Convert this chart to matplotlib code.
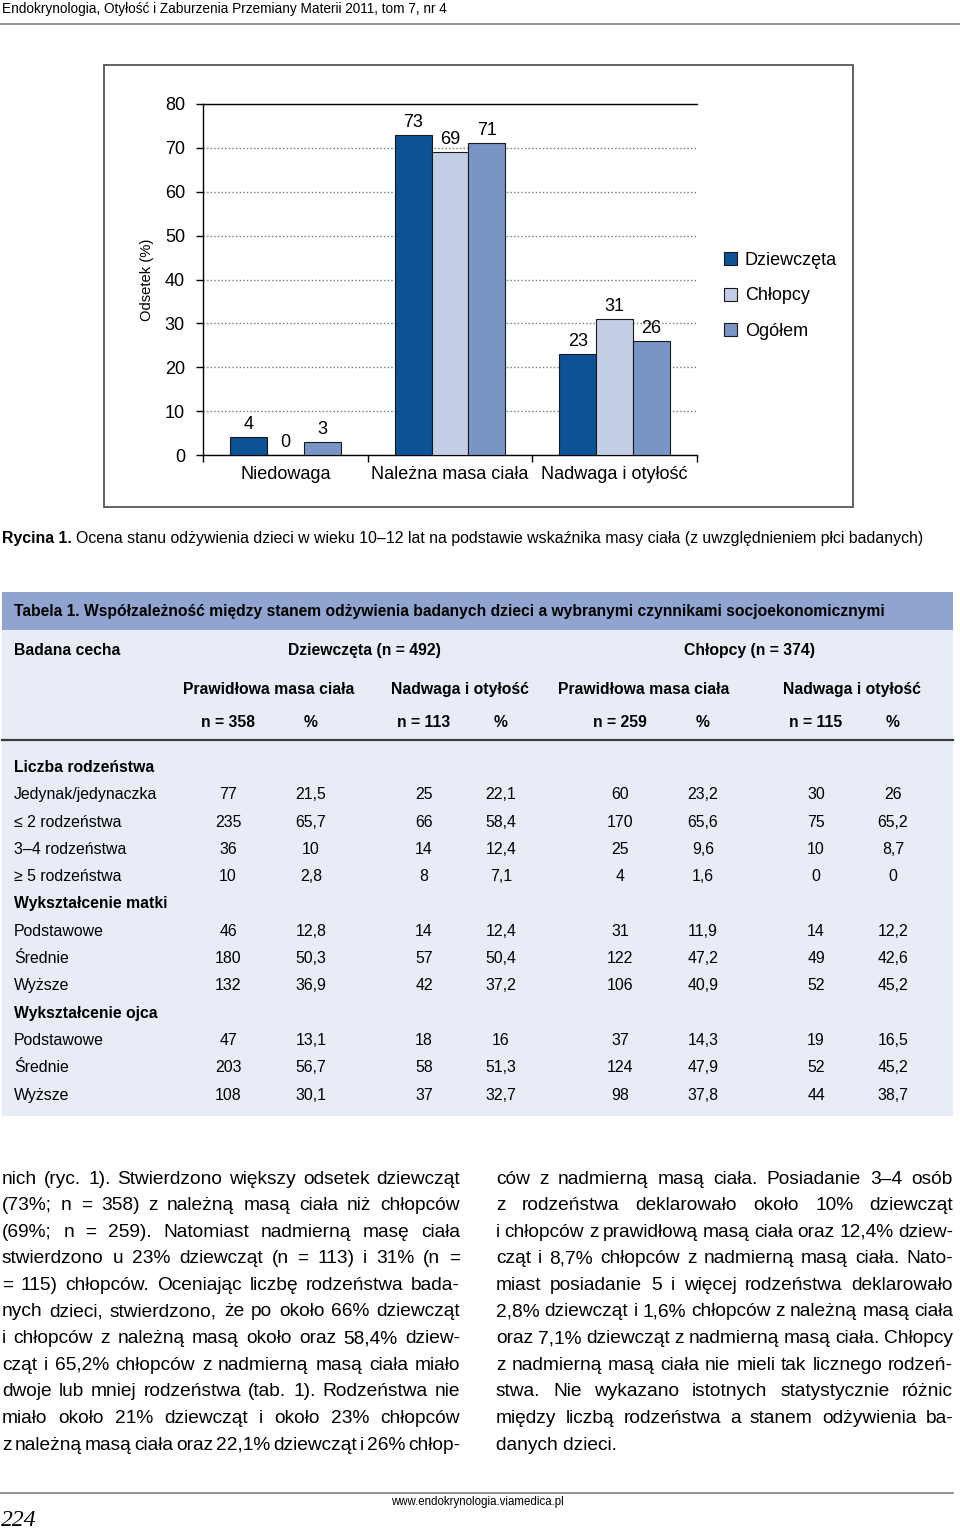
import numpy as np
import matplotlib.pyplot as plt
from matplotlib.patches import Rectangle
from matplotlib.lines import Line2D

# chart data (Rycina 1)
categories = ['Niedowaga', 'Należna masa ciała', 'Nadwaga i otyłość']
girls = [4, 73, 23]
boys = [0, 69, 31]
total = [3, 71, 26]
series_names = ['Dziewczęta', 'Chłopcy', 'Ogółem']
colors = ['#0b5297', '#c3cde6', '#7995c6']

# table data (Tabela 1)
n_labels = ['n = 358', '%', 'n = 113', '%', 'n = 259', '%', 'n = 115', '%']
sections = ['Liczba rodzeństwa', 'Wykształcenie matki', 'Wykształcenie ojca']
siblings = [
    ('Jedynak/jedynaczka', ['77', '21,5', '25', '22,1', '60', '23,2', '30', '26']),
    ('≤ 2 rodzeństwa', ['235', '65,7', '66', '58,4', '170', '65,6', '75', '65,2']),
    ('3–4 rodzeństwa', ['36', '10', '14', '12,4', '25', '9,6', '10', '8,7']),
    ('≥ 5 rodzeństwa', ['10', '2,8', '8', '7,1', '4', '1,6', '0', '0']),
]
mother = [
    ('Podstawowe', ['46', '12,8', '14', '12,4', '31', '11,9', '14', '12,2']),
    ('Średnie', ['180', '50,3', '57', '50,4', '122', '47,2', '49', '42,6']),
    ('Wyższe', ['132', '36,9', '42', '37,2', '106', '40,9', '52', '45,2']),
]
father = [
    ('Podstawowe', ['47', '13,1', '18', '16', '37', '14,3', '19', '16,5']),
    ('Średnie', ['203', '56,7', '58', '51,3', '124', '47,9', '52', '45,2']),
    ('Wyższe', ['108', '30,1', '37', '32,7', '98', '37,8', '44', '38,7']),
]

left_text = [
    'nich (ryc. 1). Stwierdzono większy odsetek dziewcząt',
    '(73%; n = 358) z należną masą ciała niż chłopców',
    '(69%; n = 259). Natomiast nadmierną masę ciała',
    'stwierdzono u 23% dziewcząt (n = 113) i 31% (n =',
    '= 115) chłopców. Oceniając liczbę rodzeństwa bada-',
    'nych dzieci, stwierdzono, że po około 66% dziewcząt',
    'i chłopców z należną masą około oraz 58,4% dziew-',
    'cząt i 65,2% chłopców z nadmierną masą ciała miało',
    'dwoje lub mniej rodzeństwa (tab. 1). Rodzeństwa nie',
    'miało około 21% dziewcząt i około 23% chłopców',
    'z należną masą ciała oraz 22,1% dziewcząt i 26% chłop-',
]
right_text = [
    'ców z nadmierną masą ciała. Posiadanie 3–4 osób',
    'z rodzeństwa deklarowało około 10% dziewcząt',
    'i chłopców z prawidłową masą ciała oraz 12,4% dziew-',
    'cząt i 8,7% chłopców z nadmierną masą ciała. Nato-',
    'miast posiadanie 5 i więcej rodzeństwa deklarowało',
    '2,8% dziewcząt i 1,6% chłopców z należną masą ciała',
    'oraz 7,1% dziewcząt z nadmierną masą ciała. Chłopcy',
    'z nadmierną masą ciała nie mieli tak licznego rodzeń-',
    'stwa. Nie wykazano istotnych statystycznie różnic',
    'między liczbą rodzeństwa a stanem odżywienia ba-',
    'danych dzieci.',
]

W, H = 960, 1532
SANS = ['Liberation Sans', 'DejaVu Sans']

fig = plt.figure(figsize=(W / 100, H / 100), dpi=100)
renderer = fig.canvas.get_renderer()


def fx(x):
    return x / W


def fy(y):
    return 1 - y / H


def txt(x, y, s, size, ha='left', weight='normal', family=SANS, **kw):
    return fig.text(fx(x), fy(y), s, fontsize=size, ha=ha, va='center_baseline',
                    fontweight=weight, family=family, **kw)


def width_px(s, size, weight='normal', family=SANS, style='normal'):
    t = fig.text(0, 0, s, fontsize=size, family=family, fontweight=weight, style=style)
    w = t.get_window_extent(renderer).width
    t.remove()
    return w


def fit(s, target, weight='normal'):
    # font size that makes the text as wide as in the reference
    return 10 * target / width_px(s, 10, weight)


def hline(x0, x1, y, color, lw):
    fig.add_artist(Line2D([fx(x0), fx(x1)], [fy(y), fy(y)], color=color, lw=lw,
                          transform=fig.transFigure))


def box(x0, y0, x1, y1, fc, ec='none', lw=0):
    fig.add_artist(Rectangle((fx(x0), fy(y1)), fx(x1) - fx(x0), fy(y0) - fy(y1),
                             transform=fig.transFigure, fc=fc, ec=ec, lw=lw, zorder=0))


def justified(lines, x0, x1, y0, step, size, last_left=False):
    for i, line in enumerate(lines):
        y = y0 + i * step
        if last_left and i == len(lines) - 1:
            txt(x0, y, line, size)
            continue
        words = line.split(' ')
        ws = [width_px(w, size) for w in words]
        gap = (x1 - x0 - sum(ws)) / (len(words) - 1)
        x = x0
        for w, wd in zip(words, ws):
            txt(x, y, w, size)
            x += wd + gap


# page header
head = 'Endokrynologia, Otyłość i Zaburzenia Przemiany Materii 2011, tom 7, nr 4'
txt(2, 8, head, fit(head, 445))
hline(0, 960, 24, '#8a8a8a', 1.3)

# figure frame
box(104, 65, 853, 507, 'white', ec='#555555', lw=1.3)

# bar chart (reference font is condensed: use a slightly larger regular one)
C = fit('Niedowaga', 75) * 1.2
ax = fig.add_axes([fx(203), fy(455), (697 - 203) / W, (455 - 104) / H])
x = np.arange(len(categories))
w = 0.224
for off, vals, col, name in zip([-w, 0, w], [girls, boys, total], colors, series_names):
    b = ax.bar(x + off, vals, w, color=col, edgecolor='#1a1a1a', lw=0.8, label=name, zorder=3)
    ax.bar_label(b, padding=3, fontsize=C, fontfamily=SANS)

ax.set_xlim(-0.5, 2.5)
ax.set_ylim(0, 80)
ax.set_yticks(range(0, 81, 10))
ax.yaxis.grid(True, linestyle=(0, (1, 1.6)), color='#777777', lw=1)
ax.set_axisbelow(True)
ax.set_xticks(x, categories)
ax.set_xticks([-0.5, 0.5, 1.5, 2.5], minor=True)
ax.tick_params(axis='x', which='major', length=0, pad=8, labelsize=C)
ax.tick_params(axis='x', which='minor', length=5, width=1)
ax.tick_params(axis='y', length=5, width=1, pad=8, labelsize=C)
for lab in ax.get_xticklabels() + ax.get_yticklabels():
    lab.set_fontfamily(SANS)
ax.spines['right'].set_visible(False)
for s in ['left', 'bottom', 'top']:
    ax.spines[s].set_linewidth(1)
ax.set_facecolor('none')
txt(145, 280, 'Odsetek (%)', fit('Odsetek (%)', 82), ha='center', rotation=90,
    rotation_mode='anchor')
em = C * 100 / 72
fig.legend(loc='center left', bbox_to_anchor=(fx(724), fy(296)), frameon=False,
           borderpad=0, borderaxespad=0,
           handlelength=13 / em, handleheight=13 / em, handletextpad=8 / em,
           labelspacing=(39 - 1.15 * em) / em, prop={'family': SANS, 'size': C})

# caption
cap_b = 'Rycina 1.'
cap = ('Ocena stanu odżywienia dzieci w wieku 10–12 lat na podstawie wskaźnika masy ciała '
       '(z uwzględnieniem płci badanych)')
k = 10 * 920 / (width_px(cap_b, 10, 'bold') + width_px(' ' + cap, 10))
bw = width_px(cap_b + ' ', k, 'bold')
txt(2, 537, cap_b, k, weight='bold')
txt(2 + bw, 537, cap, k)

# table
box(2, 592, 953, 630, '#8fa5cf')
box(2, 630, 953, 1116, '#e7ecf6')
title = ('Tabela 1. Współzależność między stanem odżywienia badanych dzieci a wybranymi '
         'czynnikami socjoekonomicznymi')
txt(14, 610, title, fit(title, 871, 'bold'), weight='bold')
T = fit('Jedynak/jedynaczka', 143)
TB = fit('Prawidłowa masa ciała', 170, 'bold')
txt(14, 649, 'Badana cecha', TB, weight='bold')
txt(364, 649, 'Dziewczęta (n = 492)', TB, ha='center', weight='bold')
txt(750, 649, 'Chłopcy (n = 374)', TB, ha='center', weight='bold')
for cx, s in zip([269, 460, 644, 852], ['Prawidłowa masa ciała', 'Nadwaga i otyłość'] * 2):
    txt(cx, 688, s, TB, ha='center', weight='bold')
col_x = [228, 311, 424, 501, 620, 703, 816, 893]
for cx, s in zip(col_x, n_labels):
    txt(cx, 721, s, TB, ha='center', weight='bold')
hline(2, 953, 740, '#3a3a3a', 1.6)

y = 766
step = 27.3
for sec, rows in zip(sections, [siblings, mother, father]):
    txt(14, y, sec, TB, weight='bold')
    y += step
    for label, vals in rows:
        txt(14, y, label, T)
        for cx, v in zip(col_x, vals):
            txt(cx, y, v, T, ha='center')
        y += step


# body text: size chosen so the tightest line keeps ~2.5 px word gaps
def word_sum(line, size):
    return sum(width_px(wd, size) for wd in line.split(' '))


B = min(10 * (456 - 2.5 * (len(l.split(' ')) - 1)) / word_sum(l, 10)
        for l in left_text + right_text[:-1])
justified(left_text, 2, 460, 1177, 26.6, B)
justified(right_text, 496, 953, 1177, 26.6, B, last_left=True)

# footer
hline(0, 953, 1493, '#8a8a8a', 1.3)
url = 'www.endokrynologia.viamedica.pl'
txt(477, 1500, url, fit(url, 173), ha='center')
txt(1, 1518, '224', 17, family=['Liberation Serif', 'DejaVu Serif'], style='italic')

fig.savefig('out.png', dpi=100)
